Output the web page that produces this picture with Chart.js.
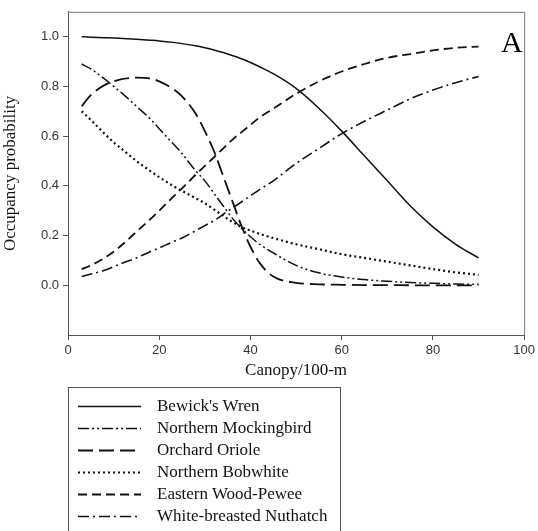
<!DOCTYPE html>
<html>
<head>
<meta charset="utf-8">
<script src="https://cdn.jsdelivr.net/npm/chart.js@4/dist/chart.umd.min.js"></script>
<style>
  html, body { margin: 0; padding: 0; background: #fff; }
  #wrap { position: relative; width: 538px; height: 531px; overflow: hidden; }
  #chart { position: absolute; left: 0; top: 0; }
  #panel { position: absolute; left: 501px; top: 25px; font: 30px 'Liberation Serif', serif; color: #000; }
  #legend { position: absolute; left: 68px; top: 387px; width: 273px; height: 170px;
            border: 1px solid #555; padding-top: 7px; box-sizing: border-box;
            font: 17px 'Liberation Serif', serif; color: #111; }
  #legend .row { height: 22px; line-height: 22px; position: relative; }
  #legend svg { position: absolute; left: 8px; top: 0; }
  #legend span { position: absolute; left: 88px; top: 0; white-space: nowrap; }
</style>
</head>
<body>
<div id="wrap">
  <canvas id="chart" width="538" height="531"></canvas>
  <div id="panel">A</div>
  <div id="legend"></div>
</div>
<script>
// canopy cover (x) shared by every curve
var canopy = [3, 5, 8, 10, 12, 15, 18, 20, 23, 25, 28, 30, 32, 34, 36, 38, 40, 42, 45, 50, 55, 60, 65, 70, 75, 80, 85, 90];

var bewicksWren = [1.0, 0.998, 0.996, 0.995, 0.993, 0.99, 0.986, 0.983, 0.977, 0.972, 0.963, 0.955, 0.946, 0.936, 0.924, 0.911, 0.896, 0.879, 0.851, 0.792, 0.712, 0.62, 0.52, 0.42, 0.32, 0.235, 0.165, 0.11];
var mockingbird = [0.89, 0.87, 0.83, 0.80, 0.77, 0.72, 0.67, 0.63, 0.57, 0.53, 0.46, 0.42, 0.37, 0.32, 0.27, 0.23, 0.195, 0.165, 0.13, 0.08, 0.05, 0.033, 0.023, 0.016, 0.011, 0.008, 0.005, 0.004];
var orchardOriole = [0.72, 0.765, 0.805, 0.82, 0.83, 0.835, 0.832, 0.82, 0.79, 0.76, 0.69, 0.62, 0.54, 0.44, 0.34, 0.24, 0.155, 0.09, 0.035, 0.01, 0.004, 0.002, 0.001, 0.001, 0, 0, 0, 0];
var bobwhite = [0.70, 0.665, 0.61, 0.575, 0.545, 0.50, 0.46, 0.435, 0.40, 0.38, 0.35, 0.33, 0.305, 0.28, 0.255, 0.235, 0.22, 0.207, 0.19, 0.165, 0.145, 0.125, 0.11, 0.095, 0.08, 0.065, 0.052, 0.042];
var woodPewee = [0.065, 0.08, 0.11, 0.135, 0.165, 0.215, 0.265, 0.30, 0.355, 0.39, 0.445, 0.48, 0.515, 0.55, 0.585, 0.615, 0.645, 0.675, 0.71, 0.77, 0.82, 0.86, 0.89, 0.915, 0.93, 0.945, 0.955, 0.96];
var nuthatch = [0.035, 0.045, 0.06, 0.075, 0.09, 0.11, 0.135, 0.15, 0.175, 0.19, 0.22, 0.24, 0.26, 0.285, 0.31, 0.335, 0.36, 0.385, 0.42, 0.49, 0.55, 0.61, 0.66, 0.705, 0.75, 0.785, 0.815, 0.84];

var xTicks = [0, 20, 40, 60, 80, 100];
var yTicks = [0, 0.2, 0.4, 0.6, 0.8, 1.0];

var series = [
  { name: "Bewick's Wren", values: bewicksWren, dash: [], width: 1.5 },
  { name: 'Northern Mockingbird', values: mockingbird, dash: [11, 3, 2, 3, 2, 3], width: 1.5 },
  { name: 'Orchard Oriole', values: orchardOriole, dash: [15, 6], width: 1.8 },
  { name: 'Northern Bobwhite', values: bobwhite, dash: [2, 3], width: 2.2 },
  { name: 'Eastern Wood-Pewee', values: woodPewee, dash: [9, 5], width: 1.8 },
  { name: 'White-breasted Nuthatch', values: nuthatch, dash: [11, 4, 2, 4], width: 1.6 }
];

function toPoints(values) {
  return values.map(function (v, i) { return { x: canopy[i], y: v }; });
}

var datasets = series.map(function (s) {
  return {
    label: s.name,
    data: toPoints(s.values),
    borderColor: '#111',
    borderWidth: s.width,
    borderDash: s.dash,
    pointRadius: 0,
    fill: false,
    cubicInterpolationMode: 'monotone'
  };
});

// top and right frame of the plot
var frame = {
  id: 'frame',
  afterDraw: function (chart) {
    var a = chart.chartArea, ctx = chart.ctx;
    ctx.save();
    ctx.strokeStyle = '#777';
    ctx.lineWidth = 1;
    ctx.beginPath();
    ctx.moveTo(a.left, a.top + 0.5);
    ctx.lineTo(a.right + 0.5, a.top + 0.5);
    ctx.lineTo(a.right + 0.5, a.bottom);
    ctx.stroke();
    ctx.restore();
  }
};

new Chart(document.getElementById('chart'), {
  type: 'line',
  data: { datasets: datasets },
  options: {
    responsive: false,
    animation: false,
    layout: { padding: { top: 11, right: 13, bottom: 146, left: 0 } },
    plugins: { legend: { display: false }, tooltip: { enabled: false } },
    scales: {
      x: {
        type: 'linear',
        min: 0,
        max: 100,
        afterBuildTicks: function (scale) { scale.ticks = xTicks.map(function (v) { return { value: v }; }); },
        afterFit: function (scale) { scale.height = 50; },
        ticks: { color: '#333', font: { family: 'Liberation Sans', size: 13 }, padding: 3, maxRotation: 0 },
        grid: { drawOnChartArea: false, tickLength: 5, color: '#555' },
        border: { color: '#555' },
        title: { display: true, text: 'Canopy/100-m', color: '#111', font: { family: 'Liberation Serif', size: 17 }, padding: { top: 4 } }
      },
      y: {
        min: -0.2,
        max: 1.1,
        afterBuildTicks: function (scale) { scale.ticks = yTicks.map(function (v) { return { value: v }; }); },
        afterFit: function (scale) { scale.width = 68; },
        ticks: {
          color: '#333',
          font: { family: 'Liberation Sans', size: 13 },
          padding: 4,
          callback: function (v) { return Number(v).toFixed(1); }
        },
        grid: { drawOnChartArea: false, tickLength: 5, color: '#555' },
        border: { color: '#555' },
        title: { display: true, text: 'Occupancy probability', color: '#111', font: { family: 'Liberation Serif', size: 17 }, padding: 0 }
      }
    }
  },
  plugins: [frame]
});

// legend box below the chart
var legend = document.getElementById('legend');
series.forEach(function (s) {
  var row = document.createElement('div');
  row.className = 'row';
  var dash = s.dash.length ? s.dash.join(',') : 'none';
  row.innerHTML = '<svg width="66" height="22"><line x1="1" y1="11.5" x2="64" y2="11.5" stroke="#111" stroke-width="' +
    s.width + '" stroke-dasharray="' + dash + '"/></svg><span>' + s.name + '</span>';
  legend.appendChild(row);
});
</script>
</body>
</html>
